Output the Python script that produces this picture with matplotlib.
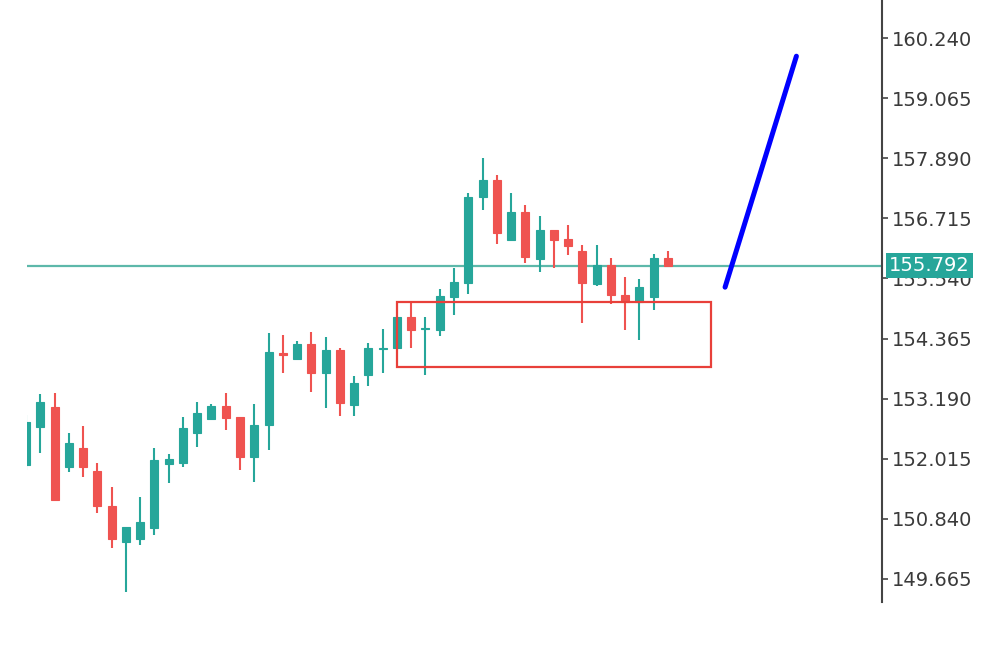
import matplotlib
matplotlib.use('Agg')
from matplotlib import pyplot as plt
from matplotlib.patches import Rectangle
import matplotlib.transforms as mtransforms
import numpy as np

# OHLC, oldest first
opens  = [151.89, 152.63, 153.03, 151.85, 152.22, 151.77, 151.09, 150.38, 150.44, 150.66,
          151.91, 151.93, 152.52, 152.79, 153.05, 152.83, 152.05, 152.67, 154.08, 153.97,
          154.26, 153.69, 154.14, 153.07, 153.65, 154.16, 154.18, 154.79, 154.55, 154.53,
          155.18, 155.45, 157.14, 157.47, 156.29, 156.84, 155.92, 156.49, 156.31, 156.08,
          155.43, 155.80, 155.22, 155.08, 155.18, 155.94]
highs  = [152.87, 153.28, 153.30, 152.52, 152.65, 151.93, 151.46, 150.68, 151.26, 152.22,
          152.11, 152.83, 153.12, 153.08, 153.30, 152.83, 153.08, 154.47, 154.43, 154.32,
          154.49, 154.40, 154.18, 153.63, 154.28, 154.55, 154.79, 155.06, 154.79, 155.34,
          155.75, 157.21, 157.90, 157.57, 157.21, 156.98, 156.76, 156.49, 156.59, 156.20,
          156.20, 155.94, 155.57, 155.53, 156.02, 156.08]
lows   = [151.79, 152.13, 151.21, 151.75, 151.66, 150.95, 150.27, 149.41, 150.33, 150.52,
          151.54, 151.85, 152.24, 152.79, 152.58, 151.79, 151.56, 152.18, 153.69, 153.97,
          153.32, 153.01, 152.85, 152.85, 153.44, 153.69, 154.18, 154.18, 153.65, 154.42,
          154.83, 155.24, 156.88, 156.22, 156.29, 155.84, 155.67, 155.75, 156.00, 154.67,
          155.39, 155.04, 154.53, 154.34, 154.92, 155.77]
closes = [152.73, 153.12, 151.21, 152.32, 151.85, 151.09, 150.44, 150.68, 150.78, 151.99,
          152.01, 152.61, 152.91, 153.05, 152.81, 152.05, 152.67, 154.10, 154.04, 154.26,
          153.69, 154.14, 153.10, 153.50, 154.18, 154.18, 154.79, 154.53, 154.57, 155.20,
          155.47, 157.14, 157.47, 156.43, 156.84, 155.96, 156.49, 156.29, 156.18, 155.45,
          155.80, 155.22, 155.08, 155.37, 155.94, 155.792]

price_ticks = [149.665, 150.840, 152.015, 153.190, 154.365, 155.540, 156.715, 157.890, 159.065, 160.240]

# red zone (bar index / price) and the blue projection line
zone_x = [26, 48]
zone_y = [153.81, 155.08]
proj_x = [49.0, 54.0]
proj_y = [155.37, 159.89]

bull = '#26a69a'
bear = '#ef5350'

fig = plt.figure(figsize=(10, 6.48), dpi=100)
ax = fig.add_axes([0.027, 1 - 602 / 648, 0.882 - 0.027, 602 / 648])

idx = np.arange(len(opens))
for i in idx:
    o, h, l, c = opens[i], highs[i], lows[i], closes[i]
    col = bull if c >= o else bear
    ax.vlines(i, l, h, color=col, linewidth=1.5, zorder=2)
    lo, hi = min(o, c), max(o, c)
    ax.add_patch(Rectangle((i - 0.28, lo), 0.56, max(hi - lo, 0.025),
                           facecolor=col, edgecolor=col, linewidth=0.8, zorder=3))

last = closes[-1]
ax.axhline(last, color='#5db8aa', linewidth=1.6, zorder=1)

ax.add_patch(Rectangle((zone_x[0], zone_y[0]), zone_x[1] - zone_x[0], zone_y[1] - zone_y[0],
                       fill=False, edgecolor='#e8403a', linewidth=1.6, zorder=4))
ax.plot(proj_x, proj_y, color='#0000ff', linewidth=3.6, solid_capstyle='round', zorder=5)

ax.set_xlim(0.07, 60)
ax.set_ylim(149.209, 160.99)

for s in ['left', 'top', 'bottom']:
    ax.spines[s].set_visible(False)
ax.spines['right'].set_color('#444444')
ax.spines['right'].set_linewidth(1.5)
ax.set_xticks([])
ax.yaxis.tick_right()
ax.set_yticks(price_ticks)
ax.set_yticklabels([f"{t:.3f}" for t in price_ticks])
ax.tick_params(axis='y', length=4, width=1.2, color='#444444', labelcolor='#3a3a3a',
               labelsize=14, pad=3)

# current price tag (covers the 155.540 label, as in the source chart)
trans = mtransforms.blended_transform_factory(ax.transAxes, ax.transData)
ax.text(1.008, last, f"{last:.3f}", transform=trans, ha='left', va='center',
        fontsize=14, color='white', clip_on=False, zorder=10,
        bbox=dict(boxstyle='square,pad=0.15', facecolor=bull, edgecolor='none'))

plt.savefig('out.png', dpi=100)
